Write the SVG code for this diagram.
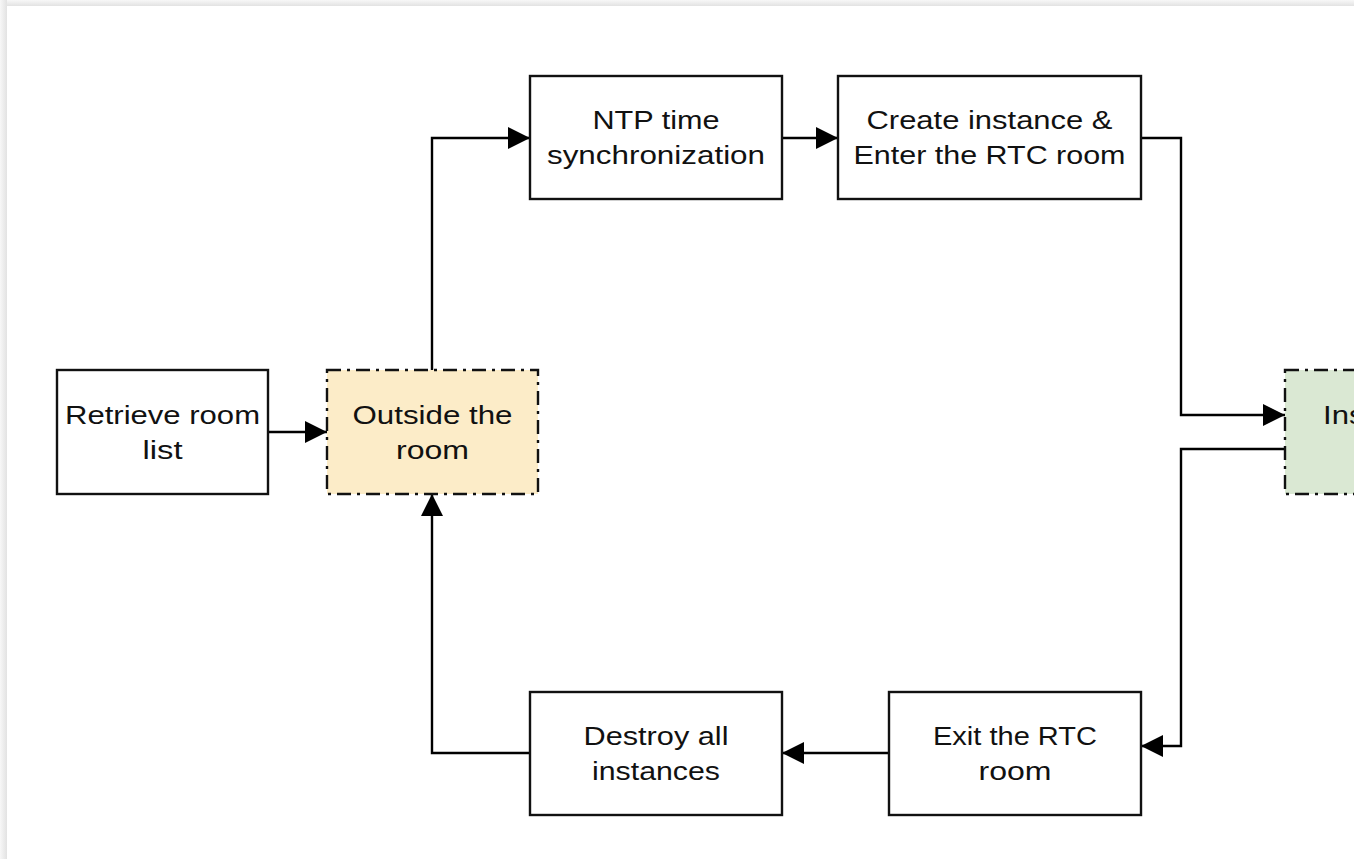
<svg xmlns="http://www.w3.org/2000/svg" width="1366" height="859" viewBox="0 0 1366 859">
  <defs>
    <linearGradient id="shTop" x1="0" y1="0" x2="0" y2="1">
      <stop offset="0" stop-color="#f7f7f7"/>
      <stop offset="1" stop-color="#e2e2e2"/>
    </linearGradient>
    <linearGradient id="shLeft" x1="0" y1="0" x2="1" y2="0">
      <stop offset="0" stop-color="#f7f7f7"/>
      <stop offset="1" stop-color="#e2e2e2"/>
    </linearGradient>
    <clipPath id="panel">
      <rect x="7" y="6" width="1347" height="853"/>
    </clipPath>
    <marker id="arrow" markerUnits="userSpaceOnUse" markerWidth="22" markerHeight="22" refX="20" refY="10" orient="auto" viewBox="0 0 20 20">
      <path d="M0,0 L20,10 L0,20 Z" fill="#000"/>
    </marker>
  </defs>
  <style>
    .box { fill: #ffffff; stroke: #111; stroke-width: 2.4; }
    .dash { stroke-dasharray: 14 6 3 6; }
    .outside { fill: #fcecc8; }
    .inside { fill: #dae8d3; }
    .lbl { font-family: "Liberation Sans", Arial, sans-serif; font-size: 26px; fill: #111; text-anchor: middle; }
    .conn { fill: none; stroke: #000; stroke-width: 2.4; }
  </style>
  <rect x="0" y="0" width="1366" height="859" fill="#ffffff"/>
  <rect x="7" y="0" width="1347" height="6" fill="url(#shTop)"/>
  <rect x="0" y="0" width="7" height="859" fill="url(#shLeft)"/>
  <rect x="7" y="6" width="1347" height="853" fill="#ffffff"/>
  <g clip-path="url(#panel)">
    <g id="connectors">
      <path class="conn" d="M268,432 L327,432" marker-end="url(#arrow)"/>
      <path class="conn" d="M432,370 L432,138 L530,138" marker-end="url(#arrow)"/>
      <path class="conn" d="M782,138 L838,138" marker-end="url(#arrow)"/>
      <path class="conn" d="M1141,138 L1181,138 L1181,415 L1285,415" marker-end="url(#arrow)"/>
      <path class="conn" d="M1285,449 L1181,449 L1181,746 L1141,746" marker-end="url(#arrow)"/>
      <path class="conn" d="M889,753 L782,753" marker-end="url(#arrow)"/>
      <path class="conn" d="M530,753 L432,753 L432,494" marker-end="url(#arrow)"/>
    </g>
    <g id="retrieve">
      <rect class="box" x="57" y="370" width="211" height="124"/>
      <text class="lbl" x="162.5" y="424" textLength="195" lengthAdjust="spacingAndGlyphs">Retrieve room</text>
      <text class="lbl" x="162.5" y="459" textLength="40" lengthAdjust="spacingAndGlyphs">list</text>
    </g>
    <g id="outside">
      <rect class="box dash outside" x="327" y="370" width="211" height="124"/>
      <text class="lbl" x="432.5" y="424" textLength="160" lengthAdjust="spacingAndGlyphs">Outside the</text>
      <text class="lbl" x="432.5" y="459" textLength="73" lengthAdjust="spacingAndGlyphs">room</text>
    </g>
    <g id="ntp">
      <rect class="box" x="530" y="76" width="252" height="123"/>
      <text class="lbl" x="656" y="129" textLength="127" lengthAdjust="spacingAndGlyphs">NTP time</text>
      <text class="lbl" x="656" y="164" textLength="218" lengthAdjust="spacingAndGlyphs">synchronization</text>
    </g>
    <g id="create">
      <rect class="box" x="838" y="76" width="303" height="123"/>
      <text class="lbl" x="989.5" y="129" textLength="246" lengthAdjust="spacingAndGlyphs">Create instance &amp;</text>
      <text class="lbl" x="989.5" y="164" textLength="272" lengthAdjust="spacingAndGlyphs">Enter the RTC room</text>
    </g>
    <g id="inside">
      <rect class="box dash inside" x="1285" y="370" width="211" height="124"/>
      <text class="lbl" x="1390.5" y="424" textLength="135" lengthAdjust="spacingAndGlyphs">Inside the</text>
      <text class="lbl" x="1390.5" y="459" textLength="73" lengthAdjust="spacingAndGlyphs">room</text>
    </g>
    <g id="exit">
      <rect class="box" x="889" y="692" width="252" height="123"/>
      <text class="lbl" x="1015" y="745" textLength="164" lengthAdjust="spacingAndGlyphs">Exit the RTC</text>
      <text class="lbl" x="1015" y="780" textLength="73" lengthAdjust="spacingAndGlyphs">room</text>
    </g>
    <g id="destroy">
      <rect class="box" x="530" y="692" width="252" height="123"/>
      <text class="lbl" x="656" y="745" textLength="145" lengthAdjust="spacingAndGlyphs">Destroy all</text>
      <text class="lbl" x="656" y="780" textLength="128" lengthAdjust="spacingAndGlyphs">instances</text>
    </g>
  </g>
</svg>
